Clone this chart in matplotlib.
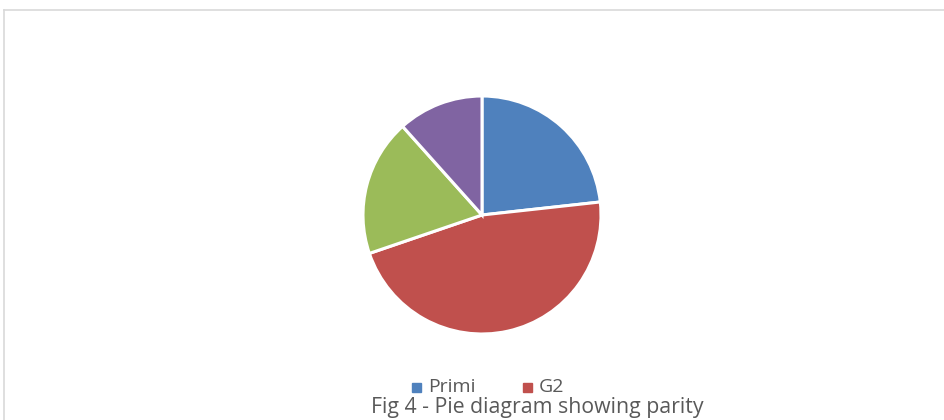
import matplotlib.pyplot as plt
from matplotlib.lines import Line2D
from matplotlib.patches import Rectangle

# 数据
labels = ["Primi", "G2", "G3", "G4"]
values = [20, 40, 16, 10]
colors = ["#4F81BD", "#C0504D", "#9BBB59", "#8064A2"]
caption = "Fig 4 - Pie diagram showing parity"

W, H = 944, 420
fig = plt.figure(figsize=(W / 100, H / 100), dpi=100)
plt.rcParams["font.family"] = ["Open Sans", "DejaVu Sans"]

# 外框 (左、上两边可见)
fig.add_artist(Line2D([4 / W, 4 / W], [0, 1 - 9.5 / H], color="#D9D9D9", lw=1.2))
fig.add_artist(Line2D([4 / W, 1], [1 - 9.5 / H, 1 - 9.5 / H], color="#D9D9D9", lw=1.2))

# 饼图
cx, cy, r = 482, H - 215, 119
ax = fig.add_axes([(cx - r) / W, (cy - r) / H, 2 * r / W, 2 * r / H])
ax.pie(values, colors=colors, startangle=90, counterclock=False,
       wedgeprops={"edgecolor": "white", "linewidth": 2.2}, radius=1.0)
ax.set_xlim(-1.0, 1.0)
ax.set_ylim(-1.0, 1.0)
ax.set_aspect("equal")
ax.axis("off")

# 图例 (只显示前两项)
for i, x0 in enumerate([412, 523]):
    fig.add_artist(Rectangle((x0 / W, 1 - 392 / H), 9 / W, 9 / H, color=colors[i],
                             transform=fig.transFigure))
    fig.text((x0 + 16) / W, 1 - 392 / H, labels[i], fontsize=14, color="#595959",
             va="baseline", ha="left")

fig.text(537 / W, 1 - 413 / H, caption, fontsize=15.3, color="#595959",
         ha="center", va="baseline")

fig.savefig("out.png", dpi=100)
